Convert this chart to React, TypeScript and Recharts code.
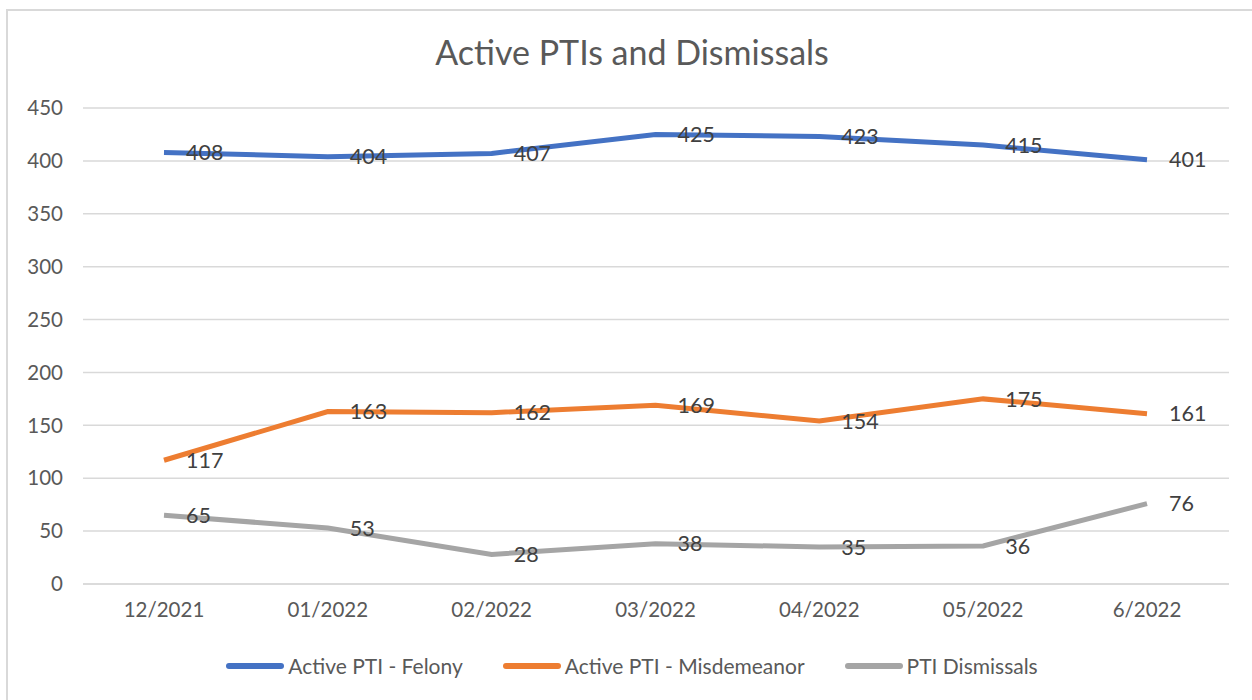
import React from 'react';
import { LineChart, Line, XAxis, YAxis, CartesianGrid, LabelList } from 'recharts';

const months = ['12/2021', '01/2022', '02/2022', '03/2022', '04/2022', '05/2022', '6/2022'];
const felony = [408, 404, 407, 425, 423, 415, 401];
const misdemeanor = [117, 163, 162, 169, 154, 175, 161];
const dismissals = [65, 53, 28, 38, 35, 36, 76];
const yTicks = [0, 50, 100, 150, 200, 250, 300, 350, 400, 450];

const SERIES = [
  { key: 'felony', name: 'Active PTI - Felony', color: '#4472C4' },
  { key: 'misdemeanor', name: 'Active PTI - Misdemeanor', color: '#ED7D31' },
  { key: 'dismissals', name: 'PTI Dismissals', color: '#A5A5A5' },
];

const chartData = months.map((m, i) => ({
  month: m,
  felony: felony[i],
  misdemeanor: misdemeanor[i],
  dismissals: dismissals[i],
}));

const FONT = 'Lato, "Open Sans", sans-serif';

export default function App() {
  return (
    <div style={{ position: 'fixed', left: 0, top: 0, width: 1252, height: 700, overflow: 'hidden', background: '#fff' }}>
      <div
        style={{
          position: 'absolute',
          left: 6,
          top: 9,
          width: 1260,
          height: 710,
          border: '2px solid #d9d9d9',
          boxSizing: 'border-box',
          fontFamily: FONT,
        }}
      >
        <div
          style={{
            position: 'absolute',
            top: 20,
            left: 0,
            width: 1248,
            textAlign: 'center',
            fontSize: 34,
            color: '#595959',
          }}
        >
          Active PTIs and Dismissals
        </div>
        <LineChart
          width={1250}
          height={700}
          data={chartData}
          margin={{ top: 97, right: 29, bottom: 87, left: 0 }}
        >
          <CartesianGrid vertical={false} stroke="#d9d9d9" strokeWidth={1.5} />
          <XAxis
            dataKey="month"
            padding={{ left: 81, right: 82 }}
            axisLine={{ stroke: '#d9d9d9', strokeWidth: 1.5 }}
            tickLine={false}
            tickSize={0}
            tickMargin={18}
            height={40}
            tick={{ fontSize: 20.5, fill: '#595959', fontFamily: FONT }}
          />
          <YAxis
            domain={[0, 450]}
            ticks={yTicks}
            width={75}
            axisLine={false}
            tickLine={false}
            tickSize={0}
            tickMargin={20}
            tick={{ fontSize: 20.5, fill: '#595959', fontFamily: FONT }}
          />
          {SERIES.map((s) => (
            <Line
              key={s.key}
              dataKey={s.key}
              name={s.name}
              stroke={s.color}
              strokeWidth={5}
              dot={false}
              isAnimationActive={false}
            >
              <LabelList
                dataKey={s.key}
                position="right"
                offset={22}
                style={{ fill: '#404040', fontSize: 21.5, fontFamily: FONT }}
              />
            </Line>
          ))}
        </LineChart>
        <div
          style={{
            position: 'absolute',
            top: 642,
            left: 0,
            width: 1248,
            display: 'flex',
            justifyContent: 'center',
            gap: 40,
            fontSize: 21,
            color: '#595959',
          }}
        >
          {SERIES.map((s) => (
            <div key={s.key} style={{ display: 'flex', alignItems: 'center' }}>
              <span
                style={{
                  display: 'inline-block',
                  width: 58,
                  height: 6,
                  borderRadius: 3,
                  background: s.color,
                  marginRight: 4,
                }}
              />
              <span>{s.name}</span>
            </div>
          ))}
        </div>
      </div>
    </div>
  );
}
